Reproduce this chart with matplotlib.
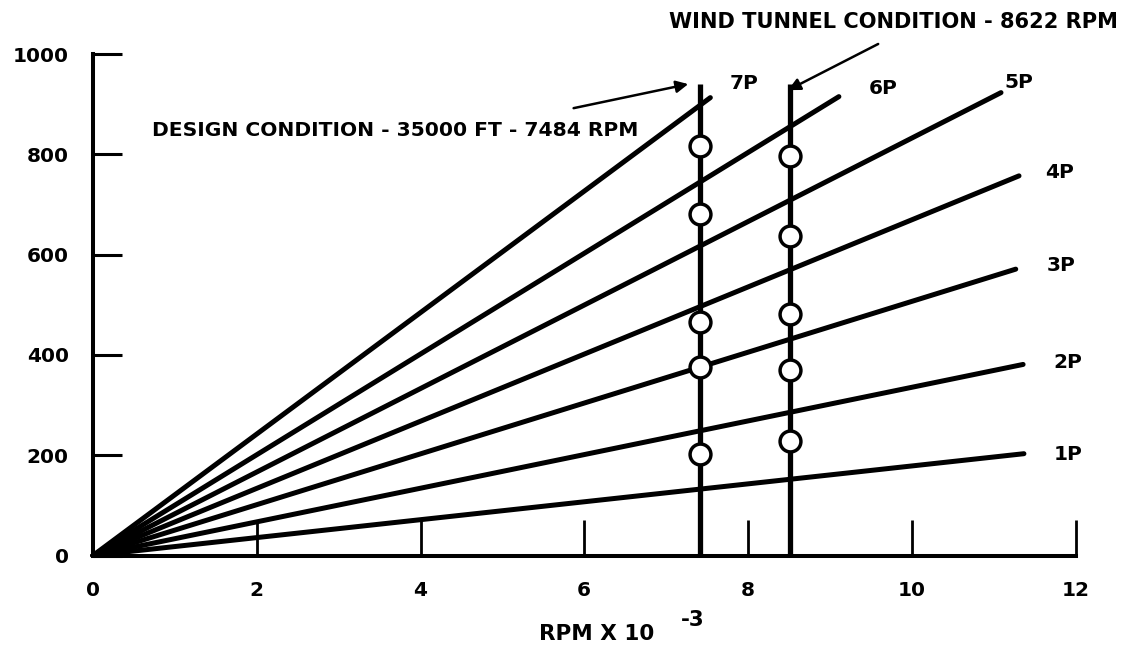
import matplotlib
matplotlib.use("Agg")
import matplotlib.pyplot as plt

plt.rcParams['font.family'] = ['DejaVu Sans']
plt.rcParams['font.weight'] = 'bold'

# ---- data ----
order_labels = ['1P', '2P', '3P', '4P', '5P', '6P', '7P']
line_end_rpm = [11.37, 11.36, 11.27, 11.31, 11.09, 9.11, 7.54]   # RPM x 10^-3
line_end_freq = [203, 381, 571, 757, 923, 915, 913]

design_rpm = 7.41
wind_rpm = 8.51
condition_top = 940
design_freqs = [817, 681, 465, 375, 203]
wind_freqs = [797, 637, 481, 369, 229]

x_ticks = [0, 2, 4, 6, 8, 10, 12]
y_ticks = [0, 200, 400, 600, 800, 1000]

design_text = 'DESIGN CONDITION - 35000 FT - 7484 RPM'
wind_text = 'WIND TUNNEL CONDITION - 8622 RPM'

# ---- figure ----
W, H = 1131, 652
fig = plt.figure(figsize=(W / 100, H / 100), dpi=100)
x0, x1 = 93, 1075.5
y0, y1 = 555.5, 54
ax = fig.add_axes([x0 / W, (H - y0) / H, (x1 - x0) / W, (y0 - y1) / H])
ax.set_xlim(0, 12)
ax.set_ylim(0, 1000)

for s in ['top', 'right']:
    ax.spines[s].set_visible(False)
for s in ['left', 'bottom']:
    ax.spines[s].set_linewidth(2.9)
    ax.spines[s].set_capstyle('projecting')

ax.set_xticks(x_ticks)
ax.set_yticks(y_ticks)
ax.set_xticklabels([str(v) for v in x_ticks])
ax.set_yticklabels([str(v) for v in y_ticks])
ax.tick_params(axis='x', direction='in', length=26, width=2.0, pad=18,
               labelsize=14.5)
ax.tick_params(axis='y', direction='in', length=21, width=2.2, pad=17.5,
               labelsize=14.5)
for lab in ax.get_xticklabels() + ax.get_yticklabels():
    lab.set_fontweight('bold')

# order lines
for lab, xe, ye in zip(order_labels, line_end_rpm, line_end_freq):
    ax.plot([0, xe], [0, ye], color='black', lw=3.6,
            solid_capstyle='round', clip_on=False, zorder=3)

# condition lines
for xr in (design_rpm, wind_rpm):
    ax.plot([xr, xr], [0, condition_top], color='black', lw=3.8,
            solid_capstyle='butt', clip_on=False, zorder=4)

ax.plot([design_rpm] * len(design_freqs), design_freqs, 'o', ms=15,
        mfc='white', mec='black', mew=2.5, zorder=5, clip_on=False)
ax.plot([wind_rpm] * len(wind_freqs), wind_freqs, 'o', ms=15,
        mfc='white', mec='black', mew=2.5, zorder=5, clip_on=False)

# order labels
label_pos = {'1P': (11.91, 202), '2P': (11.91, 384), '3P': (11.83, 579),
             '4P': (11.81, 763), '5P': (11.31, 944), '6P': (9.65, 932),
             '7P': (7.95, 941)}
for lab in order_labels:
    px, py = label_pos[lab]
    ax.text(px, py, lab, ha='center', va='center', fontsize=14.5,
            fontweight='bold', clip_on=False)

# annotations
ax.text(3.69, 848, design_text, ha='center', va='center', fontsize=14.6,
        fontweight='bold', clip_on=False)
ax.annotate('', xy=(7.27, 940), xytext=(5.87, 892),
            arrowprops=dict(arrowstyle='-|>', lw=1.8, color='black',
                            mutation_scale=18, shrinkA=0, shrinkB=0),
            annotation_clip=False)
ax.text(9.78, 1063, wind_text, ha='center', va='center', fontsize=15.1,
        fontweight='bold', clip_on=False)
ax.annotate('', xy=(8.49, 928), xytext=(9.59, 1020),
            arrowprops=dict(arrowstyle='-|>', lw=1.8, color='black',
                            mutation_scale=18, shrinkA=0, shrinkB=0),
            annotation_clip=False)

# x-axis label with raised exponent
fig.text(597 / W, 1 - 634 / H, 'RPM X 10', ha='center', va='center',
         fontsize=15.5, fontweight='bold')
fig.text(693 / W, 1 - 620 / H, '-3', ha='center', va='center',
         fontsize=15.5, fontweight='bold')

fig.savefig('out.png', dpi=100, facecolor='white')
